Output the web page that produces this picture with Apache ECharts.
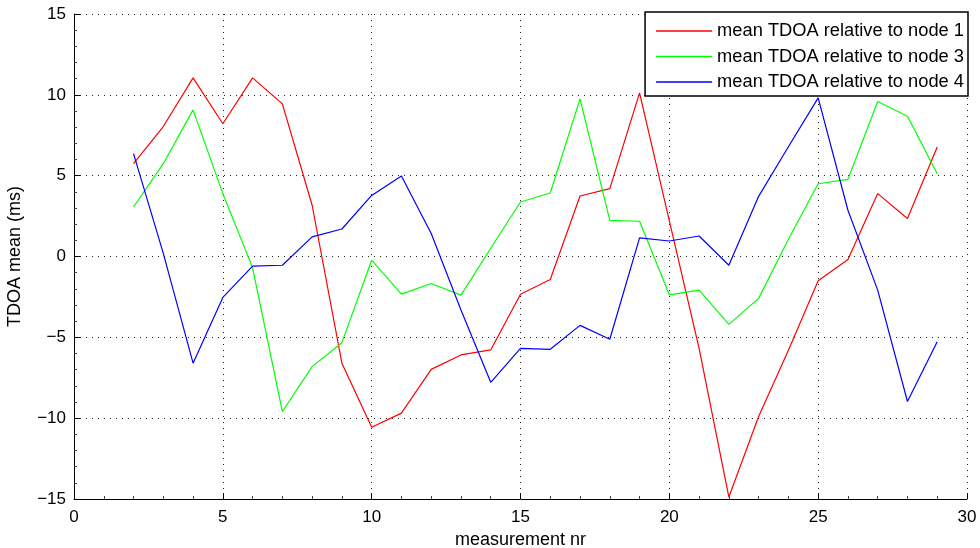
<!DOCTYPE html>
<html>
<head>
<meta charset="utf-8">
<script src="https://cdn.jsdelivr.net/npm/echarts@6/dist/echarts.min.js"></script>
<style>html,body{margin:0;padding:0;background:#fff}#c{width:980px;height:548px}</style>
</head>
<body>
<div id="c"></div>
<script>
var measurementNr = [2,3,4,5,6,7,8,9,10,11,12,13,14,15,16,17,18,19,20,21,22,23,24,25,26,27,28,29];
var node1 = [5.74,8.04,11.05,8.21,11.05,9.44,3.17,-6.6,-10.56,-9.69,-6.98,-6.09,-5.78,-2.33,-1.42,3.74,4.2,10.12,2.2,-5.68,-14.88,-9.9,-5.8,-1.5,-0.19,3.89,2.35,6.77];
var node3 = [3.06,5.74,9.07,3.89,-0.7,-9.59,-6.81,-5.33,-0.23,-2.33,-1.67,-2.39,0.51,3.37,3.93,9.75,2.24,2.18,-2.37,-2.08,-4.2,-2.59,1.07,4.5,4.77,9.59,8.68,5.12];
var node4 = [6.36,0.19,-6.6,-2.53,-0.6,-0.54,1.21,1.7,3.78,4.98,1.42,-3.31,-7.78,-5.68,-5.74,-4.26,-5.12,1.15,0.96,1.27,-0.54,3.72,6.79,9.81,2.86,-2.08,-8.97,-5.27];
var seriesNames = ['mean TDOA relative to node 1','mean TDOA relative to node 3','mean TDOA relative to node 4'];
var seriesColors = ['#ff0000','#00ff00','#0000ff'];
var xTicks = {min:0,max:30,interval:5};
var yTicks = {min:-15,max:15,interval:5};

function pairs(ys){return measurementNr.map(function(x,i){return [x,ys[i]];});}
var FONT = 'Liberation Sans';
var fmt = function(v){return String(v).replace('-','\u2212');};
function axisCommon(){
  return {
    axisLine:{show:true,onZero:false,lineStyle:{color:'#000',width:1}},
    axisTick:{show:true,inside:true,length:6,lineStyle:{color:'#000'}},
    minorTick:{show:true,splitNumber:5,length:3,lineStyle:{color:'#444'}},
    splitLine:{show:true,lineStyle:{color:'#222',type:[1,5],width:1}},
    axisLabel:{color:'#000',fontFamily:FONT,fontSize:17,formatter:fmt},
    nameTextStyle:{color:'#000',fontFamily:FONT,fontSize:18}
  };
}
var xa = axisCommon();
Object.assign(xa,{type:'value',min:xTicks.min,max:xTicks.max,interval:xTicks.interval,name:'measurement nr',nameLocation:'middle',nameGap:27});
xa.axisLabel.margin=10;
var ya = axisCommon();
Object.assign(ya,{type:'value',min:yTicks.min,max:yTicks.max,interval:yTicks.interval,name:'TDOA mean (ms)',nameLocation:'middle',nameGap:50});
ya.axisLabel.margin=8;

var data = [node1,node3,node4];
var chart = echarts.init(document.getElementById('c'),null,{renderer:'canvas'});
chart.setOption({
  animation:false,
  backgroundColor:'#fff',
  grid:{left:74,right:13,top:14,bottom:49,containLabel:false,outerBoundsMode:'none'},
  xAxis:xa,
  yAxis:ya,
  legend:{
    orient:'vertical',right:12,top:12,
    backgroundColor:'#fff',borderColor:'#000',borderWidth:1.5,
    padding:[10,4,5,11],itemWidth:56,itemHeight:1.5,itemGap:7.5,itemTextGap:6,
    icon:'rect',
    textStyle:{color:'#000',fontFamily:FONT,fontSize:18.3,lineHeight:18},
    data:seriesNames
  },
  series:data.map(function(d,i){
    return {type:'line',name:seriesNames[i],data:pairs(d),symbol:'none',showSymbol:false,
      lineStyle:{color:seriesColors[i],width:1.2},itemStyle:{color:seriesColors[i]}};
  })
});
</script>
</body>
</html>
